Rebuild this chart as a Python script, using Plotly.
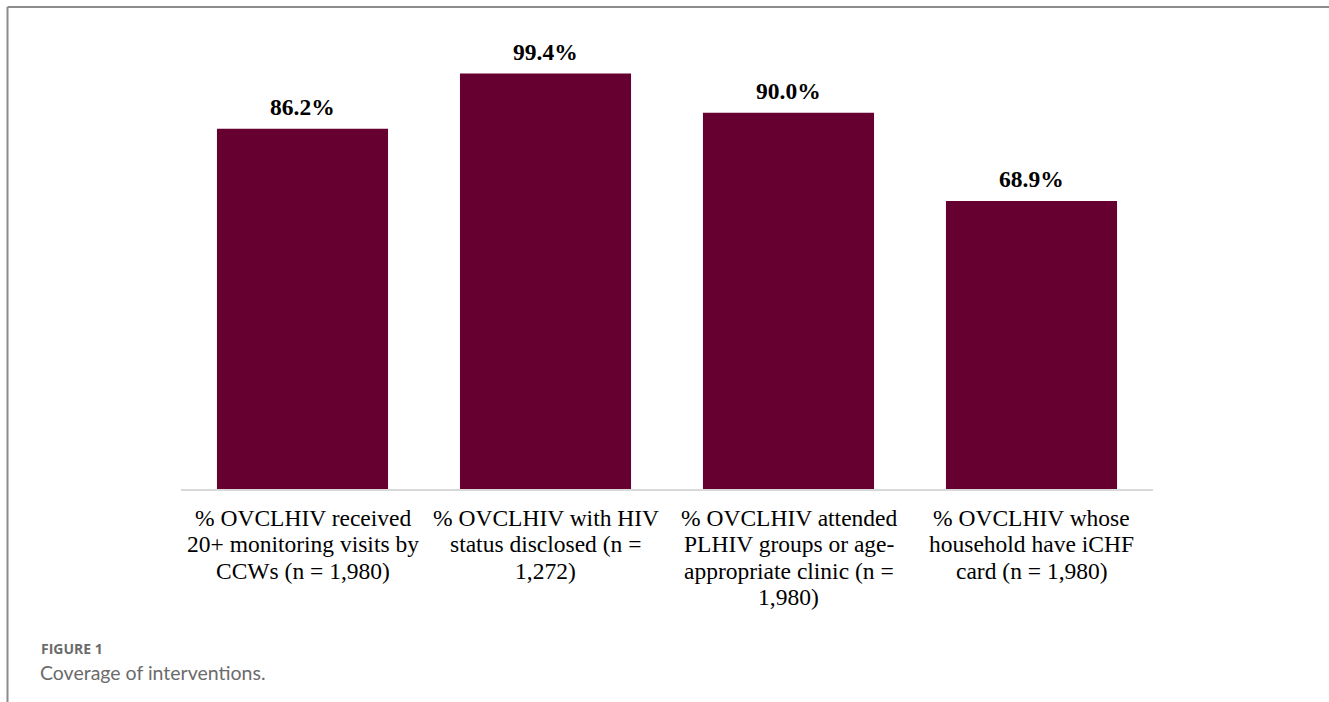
import plotly.graph_objects as go

categories = [
    "% OVCLHIV received<br>20+ monitoring visits by<br>CCWs (n = 1,980)",
    "% OVCLHIV with HIV<br>status disclosed (n =<br>1,272)",
    "% OVCLHIV attended<br>PLHIV groups or age-<br>appropriate clinic (n =<br>1,980)",
    "% OVCLHIV whose<br>household have iCHF<br>card (n = 1,980)",
]
values = [86.2, 99.4, 90.0, 68.9]
value_labels = ["86.2%", "99.4%", "90.0%", "68.9%"]

W, H = 1329, 702
L, R = 181, 1153
T_axis, B_axis = 489 - 417.6, 489

def px_x(px):
    return (px - L) / (R - L)

def px_y(py):
    return (B_axis - py) / (B_axis - T_axis)

fig = go.Figure(
    go.Bar(
        x=categories,
        y=values,
        marker=dict(color="#650030", line=dict(width=0)),
        cliponaxis=False,
        width=0.704,
    )
)

annotations = []
# value labels above bars
for cat, v, lab in zip(categories, values, value_labels):
    annotations.append(dict(
        text="<b>%s</b>" % lab, x=cat, y=v, xref="x", yref="y",
        xanchor="center", yanchor="middle", yshift=22, showarrow=False,
        font=dict(family="Liberation Serif", size=23.5, color="#000000"),
    ))
# category labels (one annotation per line for tight leading)
for cat in categories:
    for i, line in enumerate(cat.split("<br>")):
        annotations.append(dict(
            text=line, x=cat, y=px_y(518 + 26.3 * i), xref="x", yref="paper",
            xanchor="center", yanchor="middle", showarrow=False,
            font=dict(family="Liberation Serif", size=23.5, color="#000000"),
        ))
annotations += [
    dict(text="<b>FIGURE 1</b>", xref="paper", yref="paper",
         x=px_x(39), y=px_y(648), xanchor="left", yanchor="middle",
         showarrow=False,
         font=dict(family="Open Sans", size=14, color="#6b6b6b")),
    dict(text="Coverage of interventions.", xref="paper", yref="paper",
         x=px_x(38), y=px_y(672), xanchor="left", yanchor="middle",
         showarrow=False,
         font=dict(family="Lato", size=19.5, color="#6b6b6b")),
]

fig.update_layout(
    width=W,
    height=H,
    margin=dict(l=L, r=W - R, t=T_axis, b=H - B_axis, pad=0),
    paper_bgcolor="white",
    plot_bgcolor="white",
    showlegend=False,
    xaxis=dict(
        showline=True,
        linecolor="#d9d9d9",
        linewidth=1.5,
        ticks="",
        showticklabels=False,
        showgrid=False,
    ),
    yaxis=dict(range=[0, 100], visible=False, showgrid=False),
    shapes=[
        dict(type="line", xref="paper", yref="paper",
             x0=px_x(7.5), x1=px_x(1329), y0=px_y(7.5), y1=px_y(7.5),
             line=dict(color="#8c8c8c", width=2)),
        dict(type="line", xref="paper", yref="paper",
             x0=px_x(7.5), x1=px_x(7.5), y0=px_y(7.5), y1=px_y(702),
             line=dict(color="#8c8c8c", width=2)),
    ],
    annotations=annotations,
)

fig.write_html("out.html")
